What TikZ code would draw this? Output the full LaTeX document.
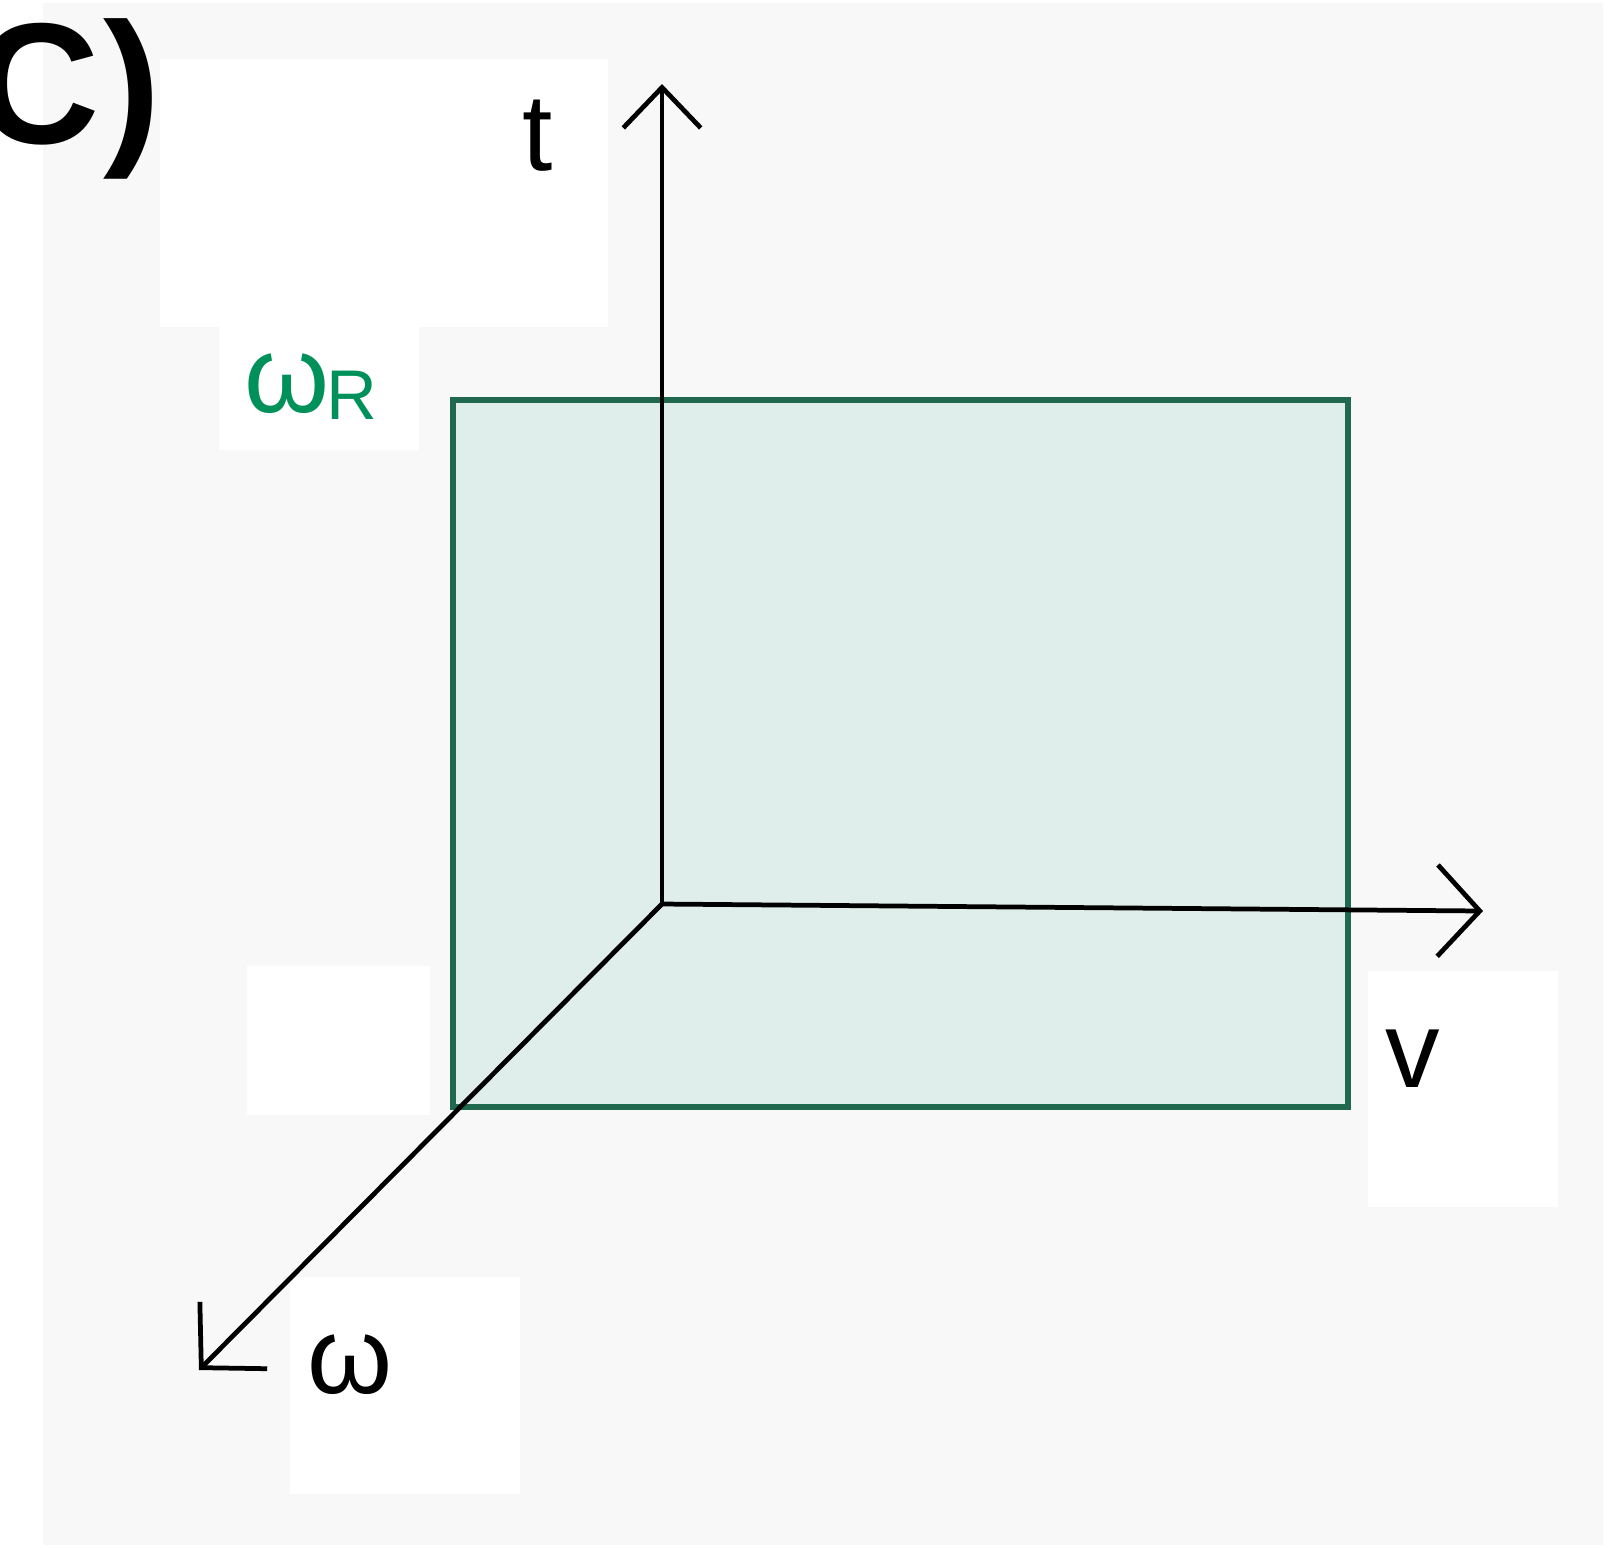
\documentclass[tikz,border=0pt]{standalone}
\usepackage{fontspec}
\setmainfont{Liberation Sans}
\usetikzlibrary{arrows.meta}
\definecolor{bggray}{HTML}{F8F8F8}
\definecolor{planefill}{HTML}{DFEEEA}
\definecolor{planeline}{HTML}{20694F}
\definecolor{labgreen}{HTML}{00915A}

\begin{document}
\begin{tikzpicture}[x={(0.01cm,0)}, y={(0,-0.01cm)},
    axis/.style={line width=1.35pt, black, line cap=round},
    lab/.style={inner sep=0pt, font=\fontsize{31}{31}\selectfont}]
    \useasboundingbox (0,0) rectangle (1615,1547);
    \fill[white] (0,0) rectangle (1615,1547);
    \fill[bggray] (43,3) rectangle (1603,1545);
    \foreach \xa/\ya/\xb/\yb in {160/59/608/327, 219/327/419/450, 247/966/430/1115, 1368/971/1558/1207, 290/1277/520/1494}
        \fill[white] (\xa,\ya) rectangle (\xb,\yb);
    \draw[planeline, fill=planefill, line width=1.5pt] (453,400) rectangle (1348,1107);
    \coordinate (O) at (662,904);
    \coordinate (ttip) at (662,84);
    \coordinate (vtip) at (1483,911);
    \coordinate (wtip) at (199,1370);
    \draw[axis, -{Straight Barb[length=11.5pt, width=22pt]}] (O) -- (ttip);
    \draw[axis, -{Straight Barb[length=12pt, width=26pt]}] (O) -- (vtip);
    \draw[axis, -{Straight Barb[length=13pt, width=27pt]}] (O) -- (wtip);
    \node[anchor=base east, inner sep=0pt, font=\fontsize{49}{49}\selectfont\bfseries] (panel) at (162,143) {C\hspace{1pt})};
    \node[lab, anchor=base] (tlab) at (538,170) {t};
    \node[lab, anchor=base west, text=labgreen] (wrlab) at (244,412) {ω\hspace{-1pt}{\fontsize{20}{20}\selectfont\raisebox{-2.2pt}{R}}};
    \node[lab, anchor=base] (vlab) at (1413,1087) {v};
    \node[lab, anchor=base] (wlab) at (350,1393) {ω};
\end{tikzpicture}
\end{document}
